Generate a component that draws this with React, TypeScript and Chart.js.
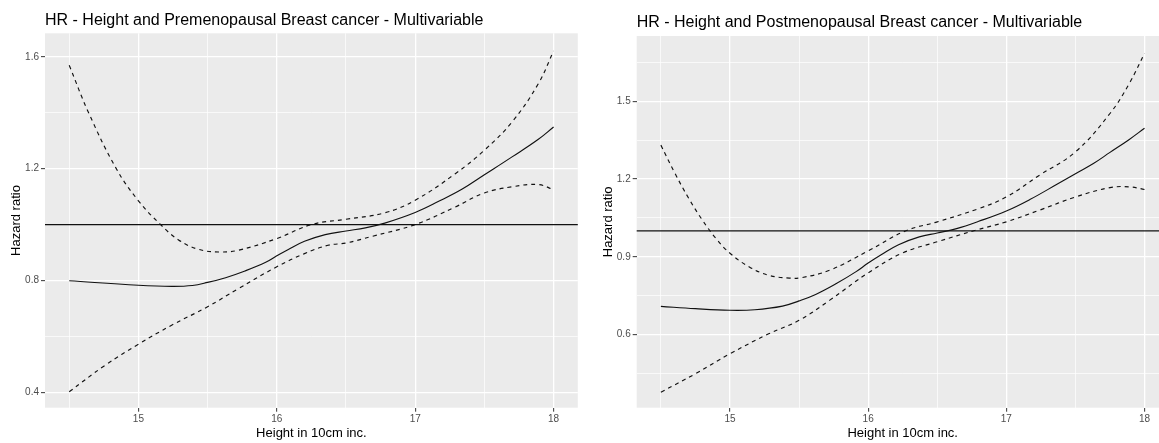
import React, { useEffect, useRef } from "react";
import { Chart, registerables } from "chart.js";

Chart.register(...registerables);

const FONT = "'Liberation Sans', Arial, Helvetica, sans-serif";

// ---- shared x axis ----
const X_MAJOR = [15, 16, 17, 18];
const X_MINOR = [14.5, 15.5, 16.5, 17.5];
const X_LABELS = ["15", "16", "17", "18"];
const X_LIMITS = [14.325, 18.175];
const X_TITLE = "Height in 10cm inc.";
const Y_TITLE = "Hazard ratio";
const REF_VALUE = 1.0;

// ---- Premenopausal ----
const PRE_TITLE = "HR - Height and Premenopausal Breast cancer - Multivariable";
const PRE_Y_MAJOR = [0.4, 0.8, 1.2, 1.6];
const PRE_Y_MINOR = [0.6, 1.0, 1.4];
const PRE_Y_LABELS = ["0.4", "0.8", "1.2", "1.6"];
const PRE_Y_LIMITS = [0.345, 1.684];

const PRE_HR_X = [14.5, 15.0, 15.24, 15.39, 15.5, 15.63, 15.77, 15.92, 16.0, 16.08, 16.2, 16.35, 16.5, 16.64, 16.78, 17.0, 17.17, 17.34, 17.5, 17.7, 17.89, 18.0];
const PRE_HR_Y = [0.799, 0.783, 0.779, 0.782, 0.793, 0.81, 0.834, 0.865, 0.888, 0.91, 0.94, 0.964, 0.977, 0.988, 1.005, 1.043, 1.083, 1.127, 1.178, 1.242, 1.305, 1.349];

const PRE_UP_X = [14.5, 14.64, 14.84, 15.0, 15.16, 15.29, 15.43, 15.58, 15.72, 16.0, 16.25, 16.5, 16.78, 17.0, 17.29, 17.5, 17.7, 17.89, 18.0];
const PRE_UP_Y = [1.57, 1.4, 1.2, 1.085, 1.0, 0.945, 0.912, 0.902, 0.908, 0.95, 1.0, 1.019, 1.042, 1.087, 1.182, 1.266, 1.367, 1.504, 1.621];

const PRE_LO_X = [14.5, 14.76, 15.0, 15.24, 15.5, 15.72, 16.0, 16.2, 16.37, 16.5, 16.69, 17.0, 17.29, 17.5, 17.7, 17.89, 18.0];
const PRE_LO_Y = [0.402, 0.497, 0.572, 0.64, 0.706, 0.77, 0.849, 0.896, 0.926, 0.934, 0.958, 1.0, 1.063, 1.113, 1.135, 1.143, 1.125];

// ---- Postmenopausal ----
const POST_TITLE = "HR - Height and Postmenopausal Breast cancer - Multivariable";
const POST_Y_MAJOR = [0.6, 0.9, 1.2, 1.5];
const POST_Y_MINOR = [0.45, 0.75, 1.05, 1.35, 1.65];
const POST_Y_LABELS = ["0.6", "0.9", "1.2", "1.5"];
const POST_Y_LIMITS = [0.318, 1.752];

const POST_HR_X = [14.5, 14.75, 15.0, 15.18, 15.38, 15.5, 15.62, 15.77, 15.91, 16.0, 16.1, 16.22, 16.37, 16.5, 16.64, 16.8, 17.0, 17.17, 17.36, 17.5, 17.63, 17.75, 17.89, 18.0];
const POST_HR_Y = [0.709, 0.7, 0.694, 0.696, 0.71, 0.73, 0.755, 0.797, 0.842, 0.876, 0.91, 0.947, 0.977, 0.992, 1.009, 1.037, 1.077, 1.121, 1.178, 1.221, 1.26, 1.303, 1.353, 1.396];

const POST_UP_X = [14.5, 14.6, 14.7, 14.8, 14.9, 15.0, 15.14, 15.28, 15.43, 15.52, 15.72, 16.0, 16.27, 16.5, 16.8, 17.0, 17.24, 17.5, 17.75, 17.89, 18.0];
const POST_UP_Y = [1.331, 1.224, 1.127, 1.042, 0.97, 0.914, 0.861, 0.829, 0.818, 0.82, 0.848, 0.923, 1.0, 1.035, 1.086, 1.131, 1.215, 1.305, 1.453, 1.569, 1.685];

const POST_LO_X = [14.5, 14.75, 15.0, 15.28, 15.5, 15.72, 16.0, 16.25, 16.5, 16.78, 17.0, 17.24, 17.5, 17.75, 17.89, 18.0];
const POST_LO_Y = [0.378, 0.449, 0.526, 0.603, 0.655, 0.732, 0.838, 0.915, 0.958, 1.003, 1.035, 1.08, 1.131, 1.167, 1.17, 1.16];

const has = (list: number[], v: number) => list.some((t) => Math.abs(t - v) < 1e-6);
const pts = (xs: number[], ys: number[]) => xs.map((x, i) => ({ x, y: ys[i] }));

const panelBg = {
  id: "panelBg",
  beforeDraw(chart: any) {
    const { ctx, chartArea: a } = chart;
    ctx.save();
    ctx.fillStyle = "#EBEBEB";
    ctx.fillRect(a.left, a.top, a.right - a.left, a.bottom - a.top);
    ctx.restore();
  },
};

const refLine = {
  id: "refLine",
  beforeDatasetsDraw(chart: any) {
    const { ctx, chartArea: a, scales } = chart;
    const y = scales.y.getPixelForValue(REF_VALUE);
    ctx.save();
    ctx.strokeStyle = "#111111";
    ctx.lineWidth = 1.2;
    ctx.beginPath();
    ctx.moveTo(a.left, y);
    ctx.lineTo(a.right, y);
    ctx.stroke();
    ctx.restore();
  },
};

type Spec = {
  title: string;
  hr: any;
  up: any;
  lo: any;
  yMajor: number[];
  yMinor: number[];
  yLabels: string[];
  yLimits: number[];
  yWidth: number;
  yTitlePad: number;
  titlePadTop: number;
  titlePadBottom: number;
  padRight: number;
};

function makeConfig(s: Spec): any {
  const lineDs = (data: any, dashed: boolean) => ({
    data,
    borderColor: "#111111",
    borderWidth: 1.15,
    borderDash: dashed ? [4, 4] : [],
    pointRadius: 0,
    tension: 0.4,
    fill: false,
  });
  return {
    type: "line",
    data: {
      datasets: [lineDs(s.hr, false), lineDs(s.up, true), lineDs(s.lo, true)],
    },
    options: {
      animation: false,
      responsive: false,
      devicePixelRatio: 1,
      layout: { padding: { left: 0, right: s.padRight, top: 0, bottom: 0 } },
      plugins: {
        legend: { display: false },
        tooltip: { enabled: false },
        title: {
          display: true,
          text: s.title,
          align: "start",
          fullSize: false,
          color: "#000000",
          font: { family: FONT, size: 16, weight: "normal", lineHeight: 1.2 },
          padding: { top: s.titlePadTop, bottom: s.titlePadBottom },
        },
      },
      scales: {
        x: {
          type: "linear",
          min: X_LIMITS[0],
          max: X_LIMITS[1],
          afterBuildTicks: (sc: any) => {
            sc.ticks = [...X_MINOR, ...X_MAJOR].sort((a, b) => a - b).map((v) => ({ value: v }));
          },
          afterFit: (sc: any) => {
            sc.height = 35.3;
          },
          ticks: {
            autoSkip: false,
            maxRotation: 0,
            padding: 1.5,
            color: "#4D4D4D",
            font: { family: FONT, size: 10 },
            callback: (v: number) => {
              const i = X_MAJOR.findIndex((t) => Math.abs(t - v) < 1e-6);
              return i >= 0 ? X_LABELS[i] : "";
            },
          },
          grid: {
            color: "#FFFFFF",
            lineWidth: (c: any) => (c.tick && has(X_MAJOR, c.tick.value) ? 1.3 : 0.7),
            drawTicks: true,
            tickLength: 4,
            tickWidth: 1,
            tickColor: (c: any) => (c.tick && has(X_MAJOR, c.tick.value) ? "#333333" : "rgba(0,0,0,0)"),
          },
          border: { display: false },
          title: {
            display: true,
            text: X_TITLE,
            color: "#000000",
            font: { family: FONT, size: 13 },
            padding: { top: 0, bottom: 2 },
          },
        },
        y: {
          type: "linear",
          min: s.yLimits[0],
          max: s.yLimits[1],
          afterBuildTicks: (sc: any) => {
            sc.ticks = [...s.yMinor, ...s.yMajor].sort((a, b) => a - b).map((v) => ({ value: v }));
          },
          afterFit: (sc: any) => {
            sc.width = s.yWidth;
          },
          ticks: {
            autoSkip: false,
            padding: 2,
            color: "#4D4D4D",
            font: { family: FONT, size: 10 },
            callback: (v: number) => {
              const i = s.yMajor.findIndex((t) => Math.abs(t - v) < 1e-6);
              return i >= 0 ? s.yLabels[i] : "";
            },
          },
          grid: {
            color: "#FFFFFF",
            lineWidth: (c: any) => (c.tick && has(s.yMajor, c.tick.value) ? 1.3 : 0.7),
            drawTicks: true,
            tickLength: 4,
            tickWidth: 1,
            tickColor: (c: any) => (c.tick && has(s.yMajor, c.tick.value) ? "#333333" : "rgba(0,0,0,0)"),
          },
          border: { display: false },
          title: {
            display: true,
            text: Y_TITLE,
            color: "#000000",
            font: { family: FONT, size: 13 },
            padding: { top: s.yTitlePad, bottom: 0 },
          },
        },
      },
    },
    plugins: [panelBg, refLine],
  };
}

function ChartCanvas({ spec, left, width }: { spec: Spec; left: number; width: number }) {
  const ref = useRef<HTMLCanvasElement | null>(null);
  useEffect(() => {
    if (!ref.current) return;
    const chart = new Chart(ref.current, makeConfig(spec));
    return () => chart.destroy();
  }, []);
  return (
    <canvas
      ref={ref}
      width={width}
      height={443}
      style={{ position: "absolute", left, top: 0, width, height: 443 }}
    />
  );
}

const PRE_SPEC: Spec = {
  title: PRE_TITLE,
  hr: pts(PRE_HR_X, PRE_HR_Y),
  up: pts(PRE_UP_X, PRE_UP_Y),
  lo: pts(PRE_LO_X, PRE_LO_Y),
  yMajor: PRE_Y_MAJOR,
  yMinor: PRE_Y_MINOR,
  yLabels: PRE_Y_LABELS,
  yLimits: PRE_Y_LIMITS,
  yWidth: 45,
  yTitlePad: 8.2,
  titlePadTop: 11.1,
  titlePadBottom: 3,
  padRight: 2.2,
};

const POST_SPEC: Spec = {
  title: POST_TITLE,
  hr: pts(POST_HR_X, POST_HR_Y),
  up: pts(POST_UP_X, POST_UP_Y),
  lo: pts(POST_LO_X, POST_LO_Y),
  yMajor: POST_Y_MAJOR,
  yMinor: POST_Y_MINOR,
  yLabels: POST_Y_LABELS,
  yLimits: POST_Y_LIMITS,
  yWidth: 56.7,
  yTitlePad: 20.5,
  titlePadTop: 13.4,
  titlePadBottom: 3.4,
  padRight: 3.3,
};

export default function App() {
  return (
    <div
      style={{
        position: "fixed",
        left: 0,
        top: 0,
        width: 1159,
        height: 443,
        overflow: "hidden",
        background: "#FFFFFF",
      }}
    >
      <ChartCanvas spec={PRE_SPEC} left={0} width={580} />
      <ChartCanvas spec={POST_SPEC} left={580} width={592} />
    </div>
  );
}
